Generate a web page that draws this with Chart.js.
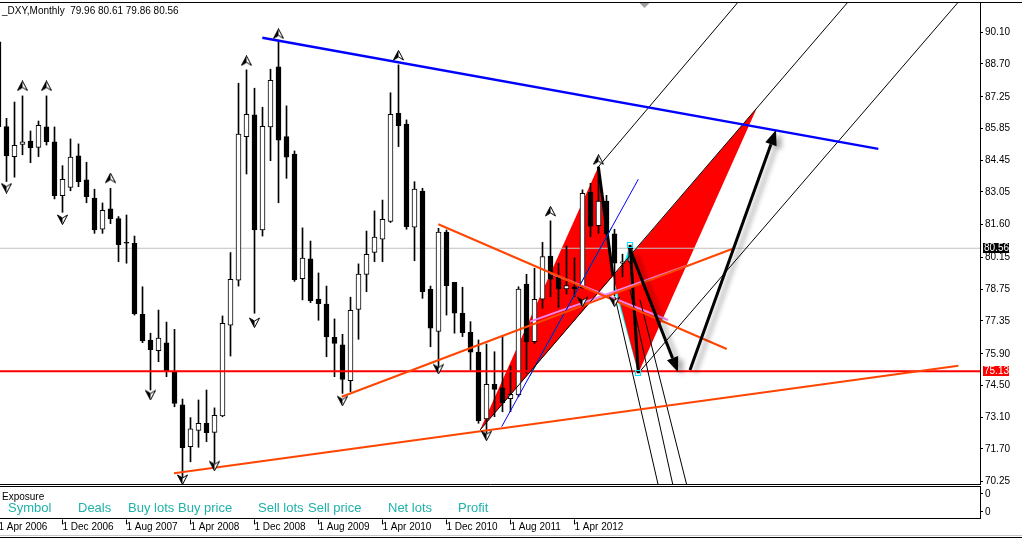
<!DOCTYPE html>
<html>
<head>
<meta charset="utf-8">
<title>_DXY Monthly</title>
<script src="https://cdn.jsdelivr.net/npm/chart.js@4.4.0/dist/chart.umd.min.js"></script>
<style>
  html, body { margin: 0; padding: 0; background: #fff; overflow: hidden; }
  #wrap { width: 1022px; height: 539px; }
</style>
</head>
<body>
<div id="wrap"><canvas id="chart" width="1022" height="539"></canvas></div>
<script>
// monthly bars, index 0 = Apr 2006 ... 79 = Nov 2012
const opens = [89.68, 85.93, 84.61, 85.15, 85.29, 85.02, 85.92, 85.26, 82.88, 83.25,
  84.64, 83.58, 82.78, 81.40, 82.30, 81.87, 80.82, 80.78, 77.64, 76.51,
  76.04, 76.38, 75.11, 73.64, 71.80, 72.52, 72.83, 72.43, 73.15, 77.16,
  79.15, 85.49, 86.45, 81.37, 85.92, 88.57, 85.49, 84.72, 79.22, 80.09,
  78.32, 78.10, 76.63, 76.29, 74.71, 77.86, 79.41, 80.38, 80.96, 81.75,
  86.52, 86.05, 81.49, 83.09, 78.75, 76.89, 81.27, 79.06, 77.69, 76.85,
  75.97, 73.02, 74.55, 74.40, 73.92, 74.08, 78.98, 76.43, 78.31, 80.22,
  79.31, 78.76, 78.86, 78.82, 83.03, 81.56, 82.65, 81.20, 79.90, 79.96];
const highs = [89.76, 86.30, 87.02, 87.29, 85.74, 86.18, 87.29, 85.92, 84.21, 85.39,
  85.17, 84.36, 83.17, 82.56, 83.21, 81.96, 82.03, 81.10, 78.86, 76.81,
  77.83, 77.30, 76.98, 73.90, 73.08, 73.86, 74.30, 73.51, 77.57, 80.37,
  87.85, 88.44, 87.63, 86.79, 88.47, 89.76, 86.85, 84.86, 81.46, 80.88,
  79.47, 78.89, 77.44, 76.76, 78.40, 79.87, 81.32, 82.21, 82.69, 87.43,
  88.66, 86.23, 83.50, 83.21, 78.89, 81.44, 81.37, 79.06, 78.84, 77.32,
  76.51, 76.33, 75.99, 76.70, 75.36, 78.86, 79.41, 79.68, 80.82, 81.77,
  79.90, 80.66, 80.14, 83.14, 83.43, 84.16, 82.90, 81.40, 80.30, 80.61];
const lows = [85.85, 83.51, 83.70, 84.69, 84.34, 84.61, 85.12, 82.74, 82.15, 83.10,
  83.28, 82.57, 81.22, 81.22, 81.65, 79.97, 79.90, 77.61, 76.39, 74.30,
  75.55, 74.89, 73.56, 70.36, 71.13, 71.77, 72.02, 71.06, 73.12, 75.80,
  78.89, 83.84, 77.69, 81.10, 84.43, 82.57, 83.65, 79.10, 78.28, 78.16,
  77.38, 75.77, 74.89, 74.15, 74.23, 76.54, 78.64, 79.97, 79.97, 81.70,
  85.05, 81.40, 80.01, 78.35, 76.21, 75.18, 77.61, 76.81, 76.66, 75.18,
  72.83, 72.39, 73.12, 73.34, 73.34, 74.00, 75.04, 76.36, 77.91, 78.42,
  77.95, 78.54, 78.42, 78.79, 81.07, 81.22, 81.10, 78.45, 79.30, 79.86];
const closes = [85.93, 84.64, 85.11, 85.26, 85.00, 85.99, 85.27, 82.88, 83.61, 84.59,
  83.50, 82.84, 81.37, 82.24, 81.87, 80.72, 80.79, 77.66, 76.47, 76.08,
  76.59, 75.11, 73.71, 71.75, 72.58, 72.83, 72.42, 73.18, 77.25, 79.19,
  85.60, 86.48, 81.37, 85.95, 87.98, 85.34, 84.58, 79.17, 80.13, 78.25,
  78.11, 76.65, 76.36, 74.77, 77.82, 79.42, 80.29, 81.05, 81.84, 86.48,
  85.98, 81.51, 83.17, 78.64, 77.03, 81.27, 78.91, 77.69, 76.83, 75.97,
  72.95, 74.55, 74.33, 73.74, 74.11, 78.76, 76.43, 78.31, 80.19, 79.19,
  78.76, 78.91, 78.76, 82.99, 81.54, 82.65, 81.20, 79.90, 79.96, 80.56];

const xTickIdx = [0, 8, 16, 24, 32, 40, 48, 56, 64, 72];
const xTickLabels = ['1 Apr 2006', '1 Dec 2006', '1 Aug 2007', '1 Apr 2008', '1 Dec 2008',
  '1 Aug 2009', '1 Apr 2010', '1 Dec 2010', '1 Aug 2011', '1 Apr 2012'];
const yTicks = [90.10, 88.70, 87.25, 85.85, 84.45, 83.05, 81.60, 80.15, 78.75, 77.35,
  75.90, 74.50, 73.10, 71.70, 70.25];

// fractal markers (bar index, price of the marker)
const upFractalIdx = [3, 6, 14, 31, 35, 50, 69, 75];
const upFractalPrice = [87.73, 87.73, 83.66, 88.84, 90.03, 89.08, 82.19, 84.47];
const downFractalIdx = [1, 8, 19, 23, 27, 32, 43, 55, 61, 73, 77];
const downFractalPrice = [83.22, 81.83, 74.08, 70.35, 70.95, 77.28, 73.82, 75.23, 72.28, 78.20, 78.20];

// price levels
const bidLevel = 80.56;
const stopLevel = 75.13;

// drawn objects, points as [bar index, price]
const trendBlue = [[32.98, 89.86], [109.98, 84.95]];
const trendOrange1 = [[21.94, 70.62], [119.98, 75.37]];
const trendOrange2 = [[42.90, 74.00], [91.94, 80.56]];
const trendOrange3 = [[54.98, 81.62], [91.03, 76.11]];
const fork1 = [[74.98, 84.16], [93.74, 91.97]];
const fork2 = [[60.19, 72.53], [107.48, 91.97]];
const fork3 = [[79.98, 75.04], [121.28, 91.97]];
const fan1 = [[77.06, 78.41], [82.61, 69.88]];
const fan2 = [[78.94, 78.72], [84.44, 69.88]];
const fan3 = [[80.19, 78.28], [86.19, 69.88]];
const thinBlue = [[62.90, 72.68], [79.98, 83.61]];
const thinGreen = [[66.44, 74.92], [76.69, 81.50]];
const pink1 = [[66.44, 77.32], [86.03, 79.79]];
const pink2 = [[68.94, 79.47], [83.69, 77.39]];
const legAB = [[74.98, 84.16], [76.81, 79.34]];
const legCD = [[78.94, 80.71], [79.98, 75.04]];
const triangle1 = [[60.19, 72.53], [74.98, 84.16], [76.81, 79.34]];
const triangle2 = [[76.81, 79.34], [94.78, 86.74], [79.98, 75.04]];
const cyanShape = [[78.94, 80.71], [77.06, 78.72], [79.98, 75.04]];
const cyanMarks = [[78.94, 80.71], [79.98, 75.04]];
const arrowDown = [[79.06, 80.40], [84.94, 75.09]];
const arrowUp = [[86.44, 75.18], [97.19, 85.78]];
const shiftIdx = 80.75;

const exposureCols = ['Symbol', 'Deals', 'Buy lots', 'Buy price', 'Sell lots', 'Sell price', 'Net lots', 'Profit'];

const FONT = '"Liberation Sans", Arial, sans-serif';
Chart.defaults.font.family = FONT;
Chart.defaults.font.size = 10;
Chart.defaults.color = '#000';

// MT4-like fractal arrow: outlined arrowhead, left half filled
function glyph(up) {
  const c = document.createElement('canvas');
  c.width = 11;
  c.height = 11;
  const g = c.getContext('2d');
  const fy = v => up ? v : 11 - v;
  g.beginPath();
  g.moveTo(5.5, fy(0.5)); g.lineTo(10.5, fy(10)); g.lineTo(5.5, fy(7)); g.lineTo(0.5, fy(10));
  g.closePath();
  g.fillStyle = '#fff';
  g.fill();
  g.strokeStyle = '#000';
  g.lineWidth = 1;
  g.stroke();
  g.beginPath();
  g.moveTo(5.5, fy(0.5)); g.lineTo(5.5, fy(7)); g.lineTo(0.5, fy(10));
  g.closePath();
  g.fillStyle = '#000';
  g.fill();
  return c;
}

function seg(pts, color, width, order) {
  return {
    type: 'line',
    data: pts.map(p => ({ x: p[0], y: p[1] })),
    borderColor: color,
    borderWidth: width,
    pointRadius: 0,
    fill: false,
    tension: 0,
    order: order
  };
}

const lastX = 122.6875;
const firstX = 0.1875;

function toPx(chart, p) {
  return [chart.scales.x.getPixelForValue(p[0]), chart.scales.y.getPixelForValue(p[1])];
}

function fillPoly(chart, pts, color) {
  const ctx = chart.ctx;
  ctx.beginPath();
  pts.forEach((p, i) => {
    const [px, py] = toPx(chart, p);
    if (i) ctx.lineTo(px, py); else ctx.moveTo(px, py);
  });
  ctx.closePath();
  ctx.fillStyle = color;
  ctx.fill();
}

function drawArrow(chart, pts) {
  const ctx = chart.ctx;
  const [x0, y0] = toPx(chart, pts[0]);
  const [x1, y1] = toPx(chart, pts[1]);
  const ang = Math.atan2(y1 - y0, x1 - x0);
  const head = 15, half = 6;
  const bx = x1 - head * Math.cos(ang), by = y1 - head * Math.sin(ang);
  ctx.beginPath();
  ctx.moveTo(x0, y0);
  ctx.lineTo(bx, by);
  ctx.stroke();
  ctx.beginPath();
  ctx.moveTo(x1, y1);
  ctx.lineTo(bx + half * Math.sin(ang), by - half * Math.cos(ang));
  ctx.lineTo(bx - half * Math.sin(ang), by + half * Math.cos(ang));
  ctx.closePath();
  ctx.fill();
}

const decor = {
  id: 'decor',
  beforeDatasetsDraw(chart) {
    const { ctx, chartArea: a } = chart;
    ctx.save();
    ctx.beginPath();
    ctx.rect(a.left, a.top, a.right - a.left, a.bottom - a.top);
    ctx.clip();
    fillPoly(chart, cyanShape, '#00ffff');
    fillPoly(chart, triangle1, '#ff0000');
    fillPoly(chart, triangle2, '#ff0000');
    ctx.restore();
  },
  afterDatasetsDraw(chart) {
    const { ctx, chartArea: a } = chart;
    ctx.save();
    ctx.beginPath();
    ctx.rect(a.left, a.top, a.right - a.left, a.bottom - a.top);
    ctx.clip();
    ctx.strokeStyle = '#00e5ff';
    ctx.lineWidth = 1;
    cyanMarks.forEach(p => {
      const [px, py] = toPx(chart, p);
      ctx.strokeRect(Math.round(px) - 2.5, Math.round(py) - 2.5, 5, 5);
    });
    ctx.shadowColor = 'rgba(0,0,0,0.35)';
    ctx.shadowBlur = 5;
    ctx.shadowOffsetX = 5;
    ctx.shadowOffsetY = 3;
    ctx.strokeStyle = '#000';
    ctx.fillStyle = '#000';
    ctx.lineWidth = 3;
    drawArrow(chart, arrowDown);
    drawArrow(chart, arrowUp);
    ctx.restore();
  },
  afterDraw(chart) {
    const { ctx, chartArea: a, scales: { x, y } } = chart;
    const W = chart.width;
    ctx.save();
    ctx.font = '10px ' + FONT;
    ctx.textBaseline = 'middle';
    ctx.textAlign = 'left';

    // header
    const n = closes.length - 1;
    ctx.fillStyle = '#000';
    ctx.fillText('_DXY,Monthly  ' + opens[n].toFixed(2) + ' ' + highs[n].toFixed(2) + ' ' +
      lows[n].toFixed(2) + ' ' + closes[n].toFixed(2), 2, 11);

    // price tags on the axis
    [[bidLevel, '#000'], [stopLevel, '#ff0000']].forEach(([v, c]) => {
      const py = Math.round(y.getPixelForValue(v));
      ctx.fillStyle = c;
      ctx.fillRect(a.right + 3, py - 5, 26, 10);
      ctx.fillStyle = '#fff';
      ctx.fillText(v.toFixed(2), a.right + 4, py + 0.5);
    });

    // chart shift marker
    const sx = x.getPixelForValue(shiftIdx);
    ctx.fillStyle = '#a0a0a0';
    ctx.beginPath();
    ctx.moveTo(sx - 5, 3); ctx.lineTo(sx + 5, 3); ctx.lineTo(sx, 8);
    ctx.closePath();
    ctx.fill();

    // frame lines
    ctx.strokeStyle = '#000';
    ctx.lineWidth = 1;
    ctx.beginPath();
    ctx.moveTo(0, 2.5); ctx.lineTo(W, 2.5);
    ctx.stroke();

    // exposure sub-window
    const top = a.bottom + 2.5, bot = a.bottom + 34.5;
    ctx.strokeRect(-1.5, top, a.right + 2, bot - top);
    ctx.fillStyle = '#000';
    ctx.fillText('Exposure', 2, top + 10.5);
    ctx.fillText('0', a.right + 5, top + 7.5);
    ctx.fillText('0', a.right + 5, top + 25.5);
    ctx.beginPath();
    ctx.moveTo(a.right, top + 7); ctx.lineTo(a.right + 3, top + 7);
    ctx.moveTo(a.right, top + 25); ctx.lineTo(a.right + 3, top + 25);
    ctx.stroke();
    const colX = [8, 78, 128, 178, 258, 308, 388, 458];
    ctx.font = '13px ' + FONT;
    ctx.fillStyle = '#20b2aa';
    exposureCols.forEach((t, i) => ctx.fillText(t, colX[i], top + 22));

    // time axis tick marks
    ctx.beginPath();
    xTickIdx.forEach(k => {
      const px = Math.floor(x.getPixelForValue(k)) + 0.5;
      ctx.moveTo(px, bot + 1); ctx.lineTo(px, bot + 6);
    });
    ctx.stroke();

    // bottom window edges
    ctx.strokeStyle = '#c8c8c8';
    ctx.beginPath();
    ctx.moveTo(0, 535.5); ctx.lineTo(W, 535.5);
    ctx.stroke();
    ctx.strokeStyle = '#000';
    ctx.beginPath();
    ctx.moveTo(0, 537.5); ctx.lineTo(W, 537.5);
    ctx.stroke();
    ctx.restore();
  }
};

const bodies = opens.map((o, i) => ({ x: i, y: [o, closes[i]] }));
const wicks = lows.map((l, i) => ({ x: i, y: [l, highs[i]] }));
const bodyColors = opens.map((o, i) => closes[i] >= o ? '#ffffff' : '#000000');

const datasets = [
  {
    type: 'line',
    data: upFractalIdx.map((k, i) => ({ x: k, y: upFractalPrice[i] })),
    showLine: false,
    pointStyle: glyph(true),
    pointRadius: 5,
    order: 0
  },
  {
    type: 'line',
    data: downFractalIdx.map((k, i) => ({ x: k, y: downFractalPrice[i] })),
    showLine: false,
    pointStyle: glyph(false),
    pointRadius: 5,
    order: 0
  },
  seg(trendBlue, '#0000ff', 2.5, 1),
  seg(trendOrange1, '#ff4500', 2, 1),
  seg(trendOrange2, '#ff4500', 2, 1),
  seg(trendOrange3, '#ff4500', 2, 1),
  seg(fork1, '#000', 1, 1),
  seg(fork2, '#000', 1, 1),
  seg(fork3, '#000', 1, 1),
  seg(fan1, '#000', 1, 1),
  seg(fan2, '#000', 1, 1),
  seg(fan3, '#000', 1, 1),
  seg(thinBlue, '#0000ff', 1, 1),
  seg(thinGreen, '#00c000', 1, 1),
  seg(pink1, '#ee82ee', 2, 1),
  seg(pink2, '#ee82ee', 2, 1),
  seg(legAB, '#000', 3, 1),
  seg(legCD, '#000', 3, 1),
  seg([[firstX, stopLevel], [lastX, stopLevel]], '#ff0000', 2, 1),
  {
    type: 'bar',
    data: bodies,
    backgroundColor: bodyColors,
    borderColor: '#000',
    borderWidth: 1,
    borderSkipped: false,
    barThickness: 5,
    grouped: false,
    order: 2
  },
  {
    type: 'bar',
    data: wicks,
    backgroundColor: '#000',
    borderWidth: 0,
    barThickness: 1,
    grouped: false,
    order: 3
  },
  seg([[firstX, bidLevel], [lastX, bidLevel]], '#c0c0c0', 1, 4)
];

new Chart(document.getElementById('chart'), {
  type: 'bar',
  data: { datasets },
  options: {
    responsive: false,
    devicePixelRatio: 1,
    animation: false,
    events: [],
    layout: { autoPadding: false, padding: { top: 3, left: 0, right: 0, bottom: 0 } },
    plugins: { legend: { display: false }, tooltip: { enabled: false } },
    scales: {
      x: {
        type: 'linear',
        min: firstX,
        max: lastX,
        offset: false,
        afterBuildTicks: s => { s.ticks = xTickIdx.map(v => ({ value: v })); },
        afterFit: s => { s.height = 55; s.paddingLeft = 0; s.paddingRight = 0; },
        ticks: {
          autoSkip: false, maxRotation: 0, minRotation: 0, align: 'start', padding: 37,
          color: '#000', font: { size: 10 },
          callback: (v, i) => xTickLabels[i]
        },
        grid: { display: false, drawTicks: false },
        border: { display: true, color: '#000', width: 1 }
      },
      y: {
        position: 'right',
        min: 70.148,
        max: 91.394,
        afterBuildTicks: s => { s.ticks = yTicks.map(v => ({ value: v })); },
        afterFit: s => { s.width = 42; s.paddingTop = 0; s.paddingBottom = 0; },
        ticks: {
          autoSkip: false, padding: 2, color: '#000', font: { size: 10 },
          callback: v => Number(v).toFixed(2)
        },
        grid: { drawOnChartArea: false, drawTicks: true, tickLength: 3, color: '#000' },
        border: { display: true, color: '#000', width: 1 }
      }
    }
  },
  plugins: [decor]
});
</script>
</body>
</html>
